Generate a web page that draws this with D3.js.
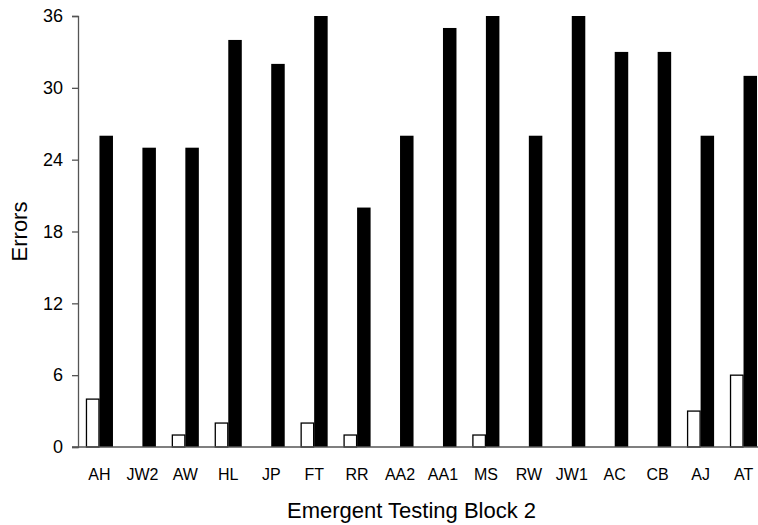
<!DOCTYPE html>
<html>
<head>
<meta charset="utf-8">
<script src="https://cdn.jsdelivr.net/npm/d3@7"></script>
<style>
  html, body { margin: 0; padding: 0; background: #fff; }
  svg text { font-family: "Liberation Sans", Arial, Helvetica, sans-serif; fill: #000; }
</style>
</head>
<body>
<svg id="chart" width="758" height="525"></svg>
<script>
// Participants tested in emergent testing block 2
const participants = ["AH", "JW2", "AW", "HL", "JP", "FT", "RR", "AA2", "AA1", "MS", "RW", "JW1", "AC", "CB", "AJ", "AT"];
// Open bars
const openErrors = [4, 0, 1, 2, 0, 2, 1, 0, 0, 1, 0, 0, 0, 0, 3, 6];
// Filled bars
const filledErrors = [26, 25, 25, 34, 32, 36, 20, 26, 35, 36, 26, 36, 33, 33, 26, 31];
const yTicks = [0, 6, 12, 18, 24, 30, 36];
const seriesKeys = ["open", "filled"];

const svg = d3.select("#chart");
const axisX = 78, baseY = 447, topY = 16;

const x0 = d3.scaleBand().domain(participants).range([axisX, 765]).padding(0);
const x1 = d3.scaleBand().domain(seriesKeys).range([0, x0.bandwidth()]).paddingInner(0).paddingOuter(0.59);
const y = d3.scaleLinear().domain([0, 36]).range([baseY, topY]);

const rows = participants.map((p, i) => ({ p, open: openErrors[i], filled: filledErrors[i] }));

// Bars
const groups = svg.append("g").selectAll("g").data(rows).join("g")
  .attr("transform", d => `translate(${x0(d.p)},0)`);

groups.filter(d => d.open > 0).append("rect")
  .attr("x", x1("open") + 0.5)
  .attr("y", d => y(d.open))
  .attr("width", x1.bandwidth() - 1)
  .attr("height", d => baseY - y(d.open))
  .attr("fill", "#fff").attr("stroke", "#000").attr("stroke-width", 1.3);

groups.append("rect")
  .attr("x", x1("filled"))
  .attr("y", d => y(d.filled))
  .attr("width", x1.bandwidth())
  .attr("height", d => baseY - y(d.filled))
  .attr("fill", "#000");

// Baseline across the plot
svg.append("line")
  .attr("x1", 72).attr("x2", 758).attr("y1", baseY).attr("y2", baseY)
  .attr("stroke", "#555").attr("stroke-width", 1.3);

// Y axis
const yAxis = d3.axisLeft(y).tickValues(yTicks).tickSize(6).tickPadding(9);
const gy = svg.append("g").attr("transform", `translate(${axisX},0)`).call(yAxis);
gy.select(".domain").attr("stroke", "#555").attr("stroke-width", 1.3);
gy.selectAll(".tick line").attr("stroke", "#555").attr("stroke-width", 1.3);
gy.selectAll(".tick text").attr("font-size", 18).attr("font-family", null).attr("fill", "#000");

// X category labels
const xAxis = d3.axisBottom(x0).tickSize(0).tickPadding(0);
const gx = svg.append("g").attr("transform", `translate(0,${baseY})`).call(xAxis);
gx.select(".domain").remove();
gx.selectAll(".tick text").attr("font-size", 16).attr("font-family", null).attr("fill", "#000")
  .attr("y", 22).attr("dy", "0.71em")
  .attr("x", 0);

// Axis titles
svg.append("text")
  .attr("x", 411.5).attr("y", 518)
  .attr("text-anchor", "middle").attr("font-size", 22)
  .text("Emergent Testing Block 2");

svg.append("text")
  .attr("transform", `translate(27,${(baseY + topY) / 2}) rotate(-90)`)
  .attr("text-anchor", "middle").attr("font-size", 22)
  .text("Errors");
</script>
</body>
</html>
